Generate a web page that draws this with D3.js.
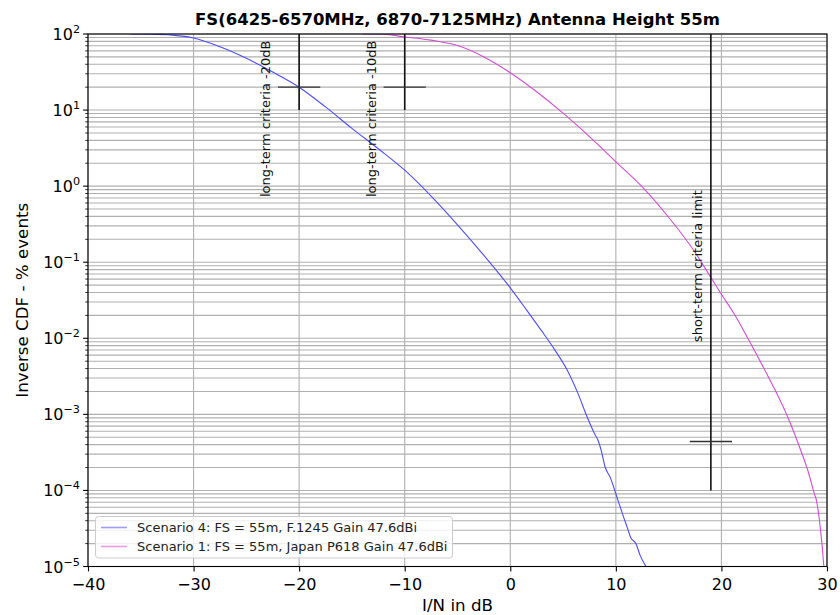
<!DOCTYPE html>
<html>
<head>
<meta charset="utf-8">
<script src="https://cdn.jsdelivr.net/npm/d3@7"></script>
<style>
  html, body { margin: 0; padding: 0; background: #ffffff; }
  svg { display: block; font-family: "DejaVu Sans", sans-serif; }
</style>
</head>
<body>
<svg id="chart" width="840" height="615"></svg>
<script>
// ---------------- DATA ----------------
const titleText = "FS(6425-6570MHz, 6870-7125MHz) Antenna Height 55m";
const xLabel = "I/N in dB";
const yLabel = "Inverse CDF - % events";
const xTicks = [-40, -30, -20, -10, 0, 10, 20, 30];
const yExponents = [-5, -4, -3, -2, -1, 0, 1, 2];

const seriesNames = [
  "Scenario 4: FS = 55m, F.1245 Gain 47.6dBi",
  "Scenario 1: FS = 55m, Japan P618 Gain 47.6dBi"
];
const seriesColors = ["#4d4dff", "#d24dd2"];

// Scenario 4 (blue): [I/N dB, % events]
const scenario4 = [
  [-36, 100], [-34, 99.5], [-32, 96.6], [-30, 88.5], [-27.5, 68], [-25, 48],
  [-22.5, 31.6], [-20, 20], [-17.5, 11], [-15, 5.75], [-12.5, 3.1],
  [-10, 1.62], [-7.5, 0.74], [-5, 0.31], [-2.5, 0.123], [0, 0.046],
  [1.5, 0.024], [2.9, 0.0129], [4.2, 0.0071], [5.4, 0.0038], [6.4, 0.0019],
  [7.3, 0.00091], [8.0, 0.00055], [8.3, 0.00046], [8.6, 0.00034],
  [9.0, 0.0002], [9.5, 0.000145], [9.8, 0.00011], [10.2, 0.000074],
  [10.75, 0.000044], [11.1, 0.000032], [11.4, 0.000024], [11.9, 0.00002],
  [12.3, 0.000014], [12.85, 0.00001]
];

// Scenario 1 (magenta): [I/N dB, % events]
const scenario1 = [
  [-14, 100], [-12, 99.3], [-10, 91.5], [-7.5, 83], [-5, 70.5], [-2.5, 50],
  [0, 31], [2.5, 17.4], [5, 9.1], [7.5, 4.47], [10, 2.09], [12.5, 0.98],
  [15, 0.39], [17.5, 0.135], [19.0, 0.063], [20, 0.038], [21.2, 0.021],
  [22.5, 0.01], [24.4, 0.0032], [25.0, 0.0022], [26.3, 0.00091], [27.5, 0.00034],
  [28.2, 0.00018], [28.8, 0.000091], [29.0, 0.000074], [29.25, 0.000044],
  [29.4, 0.000029], [29.55, 0.000018], [29.7, 0.00001]
];

// Criteria markers
const criteriaX = [-20, -10, 19];
const criteriaYFrom = [10, 10, 1e-4];
const criteriaYTo = [100, 100, 100];
const criteriaTickY = [20, 20, 4.4e-4];
const criteriaTickHalfWidth = [2, 2, 2];

const annotations = [
  { text: "long-term criteria -20dB", x: -22.8, y: 0.72 },
  { text: "long-term criteria -10dB", x: -12.75, y: 0.72 },
  { text: "short-term criteria limit", x: 18.2, y: 0.0089 }
];

// ---------------- CHART ----------------
const svg = d3.select("#chart");
const pLeft = 88, pRight = 827, pTop = 34, pBottom = 566.5;

const x = d3.scaleLinear().domain([-40, 30]).range([pLeft, pRight]);
const y = d3.scaleLog().domain([1e-5, 1e2]).range([pBottom, pTop]);

// grid
const grid = svg.append("g");
const minorY = [];
yExponents.forEach(e => {
  for (let m = 1; m <= 9; m++) {
    const v = m * Math.pow(10, e);
    if (v >= 1e-5 && v <= 1e2 * 1.0001) minorY.push(v);
  }
});
grid.selectAll("line.gy").data(minorY).join("line")
  .attr("x1", pLeft).attr("x2", pRight)
  .attr("y1", d => y(d)).attr("y2", d => y(d))
  .attr("stroke", "#b0b0b0").attr("stroke-width", 1.1);
grid.selectAll("line.gx").data(xTicks).join("line")
  .attr("x1", d => x(d)).attr("x2", d => x(d))
  .attr("y1", pTop).attr("y2", pBottom)
  .attr("stroke", "#b0b0b0").attr("stroke-width", 1.1);

// series lines
const line = d3.line().x(d => x(d[0])).y(d => y(d[1])).curve(d3.curveMonotoneX);
svg.append("clipPath").attr("id", "clip").append("rect")
  .attr("x", pLeft).attr("y", pTop).attr("width", pRight - pLeft).attr("height", pBottom - pTop);
const plot = svg.append("g").attr("clip-path", "url(#clip)");
[scenario4, scenario1].forEach((s, i) => {
  plot.append("path").datum(s).attr("d", line)
    .attr("fill", "none").attr("stroke", seriesColors[i]).attr("stroke-width", 1.1);
});

// criteria markers
criteriaX.forEach((cx, i) => {
  plot.append("line")
    .attr("x1", x(cx)).attr("x2", x(cx))
    .attr("y1", y(criteriaYFrom[i])).attr("y2", y(criteriaYTo[i]))
    .attr("stroke", "#111").attr("stroke-width", 1.6);
  plot.append("line")
    .attr("x1", x(cx - criteriaTickHalfWidth[i])).attr("x2", x(cx + criteriaTickHalfWidth[i]))
    .attr("y1", y(criteriaTickY[i])).attr("y2", y(criteriaTickY[i]))
    .attr("stroke", "#333").attr("stroke-width", 1.4);
});

// annotations
annotations.forEach(a => {
  svg.append("text")
    .attr("transform", `translate(${x(a.x)},${y(a.y)}) rotate(-90)`)
    .attr("text-anchor", "start")
    .attr("font-size", "13px").attr("fill", "#111")
    .text(a.text);
});

// frame
svg.append("rect").attr("x", pLeft).attr("y", pTop)
  .attr("width", pRight - pLeft).attr("height", pBottom - pTop)
  .attr("fill", "none").attr("stroke", "#000").attr("stroke-width", 1.1);

// x axis
const xAxis = svg.append("g").attr("transform", `translate(0,${pBottom})`)
  .call(d3.axisBottom(x).tickValues(xTicks).tickSize(4.9).tickPadding(7)
    .tickFormat(d => (d < 0 ? "\u2212" + Math.abs(d) : String(d))));
xAxis.select(".domain").remove();
xAxis.selectAll("line").attr("stroke", "#000").attr("stroke-width", 1.1);
xAxis.selectAll("text").attr("font-size", "16px").attr("fill", "#000")
  .attr("font-family", "DejaVu Sans");

// y axis ticks
const yAxisG = svg.append("g");
yAxisG.selectAll("line.minor").data(minorY.filter(v => Math.abs(Math.log10(v) - Math.round(Math.log10(v))) > 1e-9))
  .join("line")
  .attr("x1", pLeft - 2.8).attr("x2", pLeft)
  .attr("y1", d => y(d)).attr("y2", d => y(d))
  .attr("stroke", "#000").attr("stroke-width", 0.8);
yAxisG.selectAll("line.major").data(yExponents).join("line")
  .attr("x1", pLeft - 4.9).attr("x2", pLeft)
  .attr("y1", d => y(Math.pow(10, d))).attr("y2", d => y(Math.pow(10, d)))
  .attr("stroke", "#000").attr("stroke-width", 1.1);
yExponents.forEach(e => {
  const t = yAxisG.append("text")
    .attr("x", pLeft - 8).attr("y", y(Math.pow(10, e)) + 6)
    .attr("text-anchor", "end").attr("font-size", "16px").attr("fill", "#000");
  t.append("tspan").text("10");
  t.append("tspan").attr("dy", -7).attr("font-size", "11.2px")
    .text(e < 0 ? "\u2212" + Math.abs(e) : String(e));
});

// labels
svg.append("text").attr("x", (pLeft + pRight) / 2).attr("y", 611)
  .attr("text-anchor", "middle").attr("font-size", "16.7px").text(xLabel);
svg.append("text").attr("transform", `translate(28,${(pTop + pBottom) / 2}) rotate(-90)`)
  .attr("text-anchor", "middle").attr("font-size", "16.7px").text(yLabel);
svg.append("text").attr("x", (pLeft + pRight) / 2).attr("y", 25)
  .attr("text-anchor", "middle").attr("font-size", "16.5px").attr("font-weight", "bold")
  .text(titleText);

// legend
const leg = svg.append("g");
leg.append("rect").attr("x", 95.5).attr("y", 516.5).attr("width", 357).attr("height", 41.5)
  .attr("rx", 3).attr("fill", "#fff").attr("fill-opacity", 0.8)
  .attr("stroke", "#cccccc").attr("stroke-width", 1);
seriesNames.forEach((name, i) => {
  const ly = 527.5 + i * 19;
  leg.append("line").attr("x1", 101).attr("x2", 127).attr("y1", ly).attr("y2", ly)
    .attr("stroke", seriesColors[i]).attr("stroke-width", 1.6).attr("stroke-opacity", 0.55);
  leg.append("text").attr("x", 137).attr("y", ly + 4.5)
    .attr("font-size", "13px").attr("fill", "#222").text(name);
});
</script>
</body>
</html>
